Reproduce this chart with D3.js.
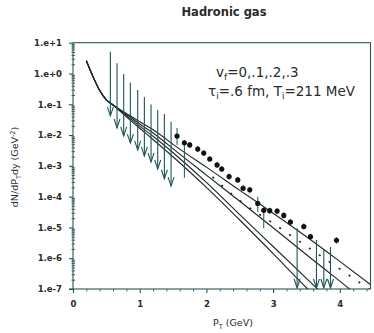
<!DOCTYPE html>
<html><head><meta charset="utf-8">
<script src="https://cdn.jsdelivr.net/npm/d3@7"></script>
<style>
html,body{margin:0;padding:0;background:#fff;}
svg{display:block;}
</style></head><body>
<svg id="chart" width="374" height="333"></svg>
<script>
// ---------- axis ticks ----------
const yTickValues = [1e1, 1e0, 1e-1, 1e-2, 1e-3, 1e-4, 1e-5, 1e-6, 1e-7];
const yTickLabels = ["1.e+1", "1.e+0", "1.e-1", "1.e-2", "1.e-3", "1.e-4", "1.e-5", "1.e-6", "1.e-7"];
const xTickValues = [0, 1, 2, 3, 4];
const xTickLabels = ["0", "1", "2", "3", "4"];

// ---------- model spectra (hadronic gas, four flow velocities) ----------
const curvePt  = [0.2, 0.3, 0.4, 0.5, 0.6, 0.8, 1.0, 1.2, 1.6, 2.0, 2.5, 3.0, 3.5, 4.0, 4.5];
const curveV30 = [2.6, 0.79, 0.28, 0.14, 0.095, 0.050, 0.027, 0.0148, 3.5e-3, 9.1e-4, 1.6e-4, 2.9e-5, 5.0e-6, 7.9e-7, 1.2e-7];
const curveV20 = [2.6, 0.79, 0.28, 0.14, 0.095, 0.047, 0.023, 0.0117, 2.4e-3, 5.0e-4, 7.1e-5, 9.8e-6, 1.3e-6, 1.8e-7, 2.4e-8];
const curveV10 = [2.6, 0.79, 0.28, 0.14, 0.095, 0.043, 0.0195, 9.1e-3, 1.74e-3, 2.9e-4, 2.6e-5, 2.4e-6, 2.2e-7, 2.0e-8, 2.0e-9];
const curveV00 = [2.6, 0.79, 0.28, 0.14, 0.095, 0.039, 0.0166, 7.2e-3, 1.26e-3, 2.0e-4, 1.74e-5, 1.41e-6, 1.1e-7, 1.0e-8, 1.0e-9];

// dotted reference spectrum
const dottedPt  = [2.1, 2.5, 3.0, 3.5, 4.0, 4.45];
const dottedVal = [4.2e-4, 7.4e-5, 1.35e-5, 2.45e-6, 4.5e-7, 9.5e-8];

// ---------- measured points ----------
const dataPt  = [1.56, 1.67, 1.75, 1.87, 1.96, 2.05, 2.16, 2.23, 2.34, 2.47, 2.55, 2.65, 2.77, 2.86, 2.95, 3.06, 3.16, 3.26, 3.46, 3.56, 3.95];
const dataVal = [9.3e-3, 5.6e-3, 4.8e-3, 3.5e-3, 2.6e-3, 1.67e-3, 1.07e-3, 7.9e-4, 4.5e-4, 3.5e-4, 1.87e-4, 1.66e-4, 6.0e-5, 3.6e-5, 3.5e-5, 3.4e-5, 2.45e-5, 1.5e-5, 1.07e-5, 5.0e-6, 3.8e-6];
const dataHi  = [1.7e-2, 6.9e-3, 6.0e-3, 4.4e-3, 3.2e-3, 2.1e-3, 1.35e-3, 1.0e-3, 5.6e-4, 4.4e-4, 2.4e-4, 2.1e-4, 1.0e-4, 4.5e-5, 4.4e-5, 4.3e-5, 3.1e-5, 1.9e-5, 1.35e-5, 6.3e-6, 4.8e-6];
const dataLo  = [4.8e-3, 4.1e-4, 3.8e-3, 2.8e-3, 2.1e-3, 1.33e-3, 8.5e-4, 6.3e-4, 3.6e-4, 2.8e-4, 1.5e-4, 1.3e-4, 3.2e-5, 9.3e-6, 2.8e-5, 2.7e-5, 1.95e-5, 1.2e-5, 8.5e-6, 4.0e-6, 3.0e-6];

// upper limits, low pT
const ulPt     = [0.56, 0.66, 0.76, 0.86, 0.97, 1.07, 1.17, 1.27, 1.37, 1.47];
const ulTop    = [5.1, 2.14, 0.96, 0.50, 0.29, 0.173, 0.099, 0.065, 0.048, 0.027];
const ulBottom = [0.042, 0.017, 0.0094, 0.0055, 0.0033, 0.0021, 0.00134, 0.00079, 0.00038, 0.00022];

// upper limits, high pT
const ulHiPt     = [3.36, 3.65, 3.76, 3.86];
const ulHiTop    = [9.5e-6, 3.9e-6, 1.9e-6, 2.3e-6];
const ulHiBottom = [1.08e-7, 1.08e-7, 1.08e-7, 1.08e-7];

// ---------- layout ----------
const svg = d3.select("#chart");
const padL = 73, padR = 370.5, padT = 42.7, padB = 289;
const ink = "#1f2a2a", axisInk = "#285858", barInk = "#1d5656", textInk = "#2a2a2a";

const x = d3.scaleLinear().domain([0, 4.46]).range([padL, padR]);
const y = d3.scaleLog().domain([1e-7, 1e1]).range([padB, padT]);

svg.append("defs").append("clipPath").attr("id", "plot")
  .append("rect").attr("x", padL).attr("y", padT).attr("width", padR - padL).attr("height", padB - padT);

// frame
svg.append("rect").attr("x", padL).attr("y", padT).attr("width", padR - padL).attr("height", padB - padT)
  .attr("fill", "none").attr("stroke", axisInk).attr("stroke-width", 1.1);

// y axis: major ticks with labels, minor ticks per decade
const yMinor = [];
for (let e = -7; e < 1; e++) for (let m = 2; m <= 9; m++) yMinor.push(m * Math.pow(10, e));

const yAxis = svg.append("g").attr("transform", `translate(${padL},0)`)
  .call(d3.axisLeft(y).tickValues(yTickValues).tickSize(4).tickPadding(7)
    .tickFormat((d, i) => yTickLabels[i]));
yAxis.select(".domain").remove();
yAxis.selectAll("line").attr("stroke", axisInk).attr("stroke-width", 1.1);
yAxis.selectAll("text").attr("font-family", "DejaVu Sans").attr("font-weight", "bold")
  .attr("font-size", 8.5).attr("fill", textInk);

svg.append("g").attr("transform", `translate(${padL + 2},0)`)
  .call(d3.axisLeft(y).tickValues(yMinor).tickSize(3.5).tickFormat(""))
  .call(g => g.select(".domain").remove())
  .selectAll("line").attr("stroke", axisInk).attr("stroke-width", 0.9);

// x axis
const xMinor = d3.range(0.2, 4.41, 0.2).filter(v => Math.abs(v - Math.round(v)) > 1e-6);
const xAxis = svg.append("g").attr("transform", `translate(0,${padB})`)
  .call(d3.axisBottom(x).tickValues(xTickValues).tickSize(4).tickPadding(8)
    .tickFormat((d, i) => xTickLabels[i]));
xAxis.select(".domain").remove();
xAxis.selectAll("line").attr("stroke", axisInk).attr("stroke-width", 1.1);
xAxis.selectAll("text").attr("font-family", "DejaVu Sans").attr("font-weight", "bold")
  .attr("font-size", 8.5).attr("fill", textInk);

svg.append("g").attr("transform", `translate(0,${padB})`)
  .call(d3.axisBottom(x).tickValues(xMinor).tickSize(2.5).tickFormat(""))
  .call(g => g.select(".domain").remove())
  .selectAll("line").attr("stroke", axisInk).attr("stroke-width", 0.9);

// corner cross
svg.append("line").attr("x1", padL - 4).attr("x2", padL).attr("y1", padB).attr("y2", padB)
  .attr("stroke", axisInk).attr("stroke-width", 1.1);

const plot = svg.append("g").attr("clip-path", "url(#plot)");

// model curves
const line = d3.line().x(d => x(d[0])).y(d => y(d[1])).curve(d3.curveMonotoneX);
[curveV30, curveV20, curveV10, curveV00].forEach(vals => {
  plot.append("path").datum(curvePt.map((p, i) => [p, vals[i]]))
    .attr("d", line).attr("fill", "none").attr("stroke", ink).attr("stroke-width", 1.15);
});

plot.append("path").datum(dottedPt.map((p, i) => [p, dottedVal[i]]))
  .attr("d", line).attr("fill", "none").attr("stroke", ink)
  .attr("stroke-width", 1.8).attr("stroke-linecap", "round").attr("stroke-dasharray", "0.5,11.5");

// upper-limit bars with downward arrowheads
function limitBar(pt, hi, lo) {
  const px = x(pt), y1 = y(hi), y2 = y(lo);
  plot.append("line").attr("x1", px).attr("x2", px).attr("y1", y1).attr("y2", y2)
    .attr("stroke", barInk).attr("stroke-width", 1.1);
  plot.append("path").attr("d", `M${px - 3},${y2 - 9}L${px},${y2}L${px + 3},${y2 - 9}`)
    .attr("fill", "none").attr("stroke", barInk).attr("stroke-width", 1.1);
}
ulPt.forEach((p, i) => limitBar(p, ulTop[i], ulBottom[i]));
ulHiPt.forEach((p, i) => limitBar(p, ulHiTop[i], ulHiBottom[i]));

// measured points with error bars
dataPt.forEach((p, i) => {
  plot.append("line").attr("x1", x(p)).attr("x2", x(p))
    .attr("y1", y(dataHi[i])).attr("y2", y(dataLo[i]))
    .attr("stroke", barInk).attr("stroke-width", 1);
});
plot.selectAll("circle.pt").data(dataPt).join("circle").attr("class", "pt")
  .attr("cx", d => x(d)).attr("cy", (d, i) => y(dataVal[i])).attr("r", 2.6).attr("fill", "#111");

// ---------- text ----------
svg.append("text").attr("x", 224).attr("y", 16).attr("text-anchor", "middle")
  .attr("font-family", "DejaVu Sans").attr("font-weight", "bold").attr("font-size", 11.5)
  .attr("fill", textInk).text("Hadronic gas");

const t1 = svg.append("text").attr("x", 216).attr("y", 77)
  .attr("font-family", "DejaVu Sans").attr("font-size", 13.5).attr("fill", textInk);
t1.append("tspan").text("v");
t1.append("tspan").attr("font-size", 9).attr("dy", 3).text("f");
t1.append("tspan").attr("dy", -3).text("=0,.1,.2,.3");

const t2 = svg.append("text").attr("x", 208).attr("y", 96)
  .attr("font-family", "DejaVu Sans").attr("font-size", 13.5).attr("fill", textInk);
t2.append("tspan").text("τ");
t2.append("tspan").attr("font-size", 9).attr("dy", 3).text("i");
t2.append("tspan").attr("dy", -3).text("=.6 fm, T");
t2.append("tspan").attr("font-size", 9).attr("dy", 3).text("i");
t2.append("tspan").attr("dy", -3).text("=211 MeV");

const xl = svg.append("text").attr("x", 233).attr("y", 326).attr("text-anchor", "middle")
  .attr("font-family", "DejaVu Sans").attr("font-size", 9.5).attr("fill", textInk);
xl.append("tspan").text("P");
xl.append("tspan").attr("font-size", 6.5).attr("dy", 2.5).text("T");
xl.append("tspan").attr("dy", -2.5).text(" (GeV)");

const yl = svg.append("text").attr("transform", "translate(18,167) rotate(-90)").attr("text-anchor", "middle")
  .attr("font-family", "DejaVu Sans").attr("font-size", 9.5).attr("fill", textInk);
yl.append("tspan").text("dN/dP");
yl.append("tspan").attr("font-size", 6.5).attr("dy", 2.5).text("T");
yl.append("tspan").attr("dy", -2.5).text("dy (GeV");
yl.append("tspan").attr("font-size", 6.5).attr("dy", -3.5).text("-2");
yl.append("tspan").attr("dy", 3.5).text(")");
</script>
</body></html>
